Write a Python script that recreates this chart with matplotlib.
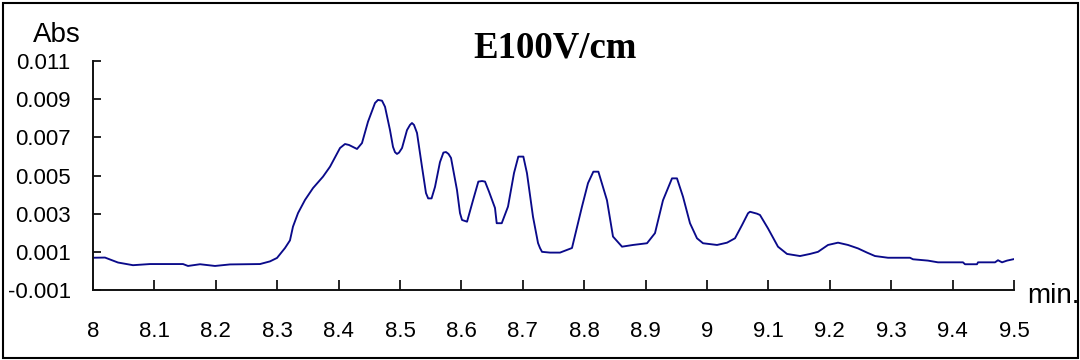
import matplotlib
matplotlib.use("Agg")
import matplotlib.pyplot as plt
from matplotlib.patches import Rectangle

# electropherogram trace (time in min, absorbance)
time_min = [
    8.000, 8.0195, 8.0407, 8.0651, 8.0928, 8.1466, 8.1547, 8.1743, 8.1987, 8.2231,
    8.2720, 8.2883, 8.2997, 8.3127, 8.3208, 8.3257, 8.3339, 8.3453, 8.3583, 8.3746,
    8.3860, 8.4023, 8.4104, 8.4169, 8.4300, 8.4381, 8.4479, 8.4593, 8.4642, 8.4707,
    8.4756, 8.4837, 8.4886, 8.4919, 8.4951, 8.4984, 8.5033, 8.5114, 8.5163, 8.5195,
    8.5228, 8.5277, 8.5358, 8.5423, 8.5459, 8.5514, 8.5570, 8.5651, 8.5707, 8.5749,
    8.5790, 8.5831, 8.5928, 8.5977, 8.6010, 8.6092, 8.6189, 8.6276, 8.6336, 8.6385,
    8.6450, 8.6547, 8.6575, 8.6657, 8.6759, 8.6857, 8.6927, 8.7009, 8.7068, 8.7166,
    8.7248, 8.7280, 8.7313, 8.7443, 8.7606, 8.7801, 8.7964, 8.8062, 8.8149, 8.8231,
    8.8371, 8.8469, 8.8616, 8.8795, 8.9023, 8.9153, 8.9283, 8.9430, 8.9511, 8.9609,
    8.9723, 8.9837, 8.9935, 9.0163, 9.0326, 9.0456, 9.0570, 9.0668, 9.0700, 9.0814,
    9.0863, 9.0993, 9.1156, 9.1303, 9.1515, 9.1678, 9.1808, 9.1971, 9.2134, 9.2296,
    9.2459, 9.2606, 9.2736, 9.2948, 9.3306, 9.3355, 9.3599, 9.3762, 9.4169, 9.4202,
    9.4397, 9.4414, 9.4691, 9.4739, 9.4805, 9.4886, 9.5000,
]
absorbance = [
    0.00069, 0.00070, 0.00044, 0.00030, 0.00036, 0.00036, 0.00026, 0.00035, 0.00026, 0.00034,
    0.00036, 0.00050, 0.00068, 0.00120, 0.00160, 0.00232, 0.00303, 0.00372, 0.00434, 0.00494,
    0.00546, 0.00644, 0.00665, 0.00660, 0.00639, 0.00670, 0.00782, 0.00880, 0.00896, 0.00892,
    0.00860, 0.00738, 0.00650, 0.00622, 0.00613, 0.00620, 0.00644, 0.00738, 0.00765, 0.00775,
    0.00765, 0.00723, 0.00546, 0.00408, 0.00380, 0.00380, 0.00440, 0.00570, 0.00620, 0.00623,
    0.00613, 0.00592, 0.00424, 0.00303, 0.00267, 0.00258, 0.00370, 0.00468, 0.00471, 0.00468,
    0.00415, 0.00330, 0.00250, 0.00250, 0.00337, 0.00513, 0.00599, 0.00599, 0.00512, 0.00284,
    0.00146, 0.00120, 0.00100, 0.00096, 0.00096, 0.00120, 0.00337, 0.00460, 0.00520, 0.00520,
    0.00370, 0.00180, 0.00127, 0.00136, 0.00145, 0.00198, 0.00370, 0.00485, 0.00485, 0.00389,
    0.00250, 0.00171, 0.00145, 0.00136, 0.00148, 0.00171, 0.00240, 0.00302, 0.00310, 0.00300,
    0.00293, 0.00223, 0.00127, 0.00089, 0.00078, 0.00089, 0.00100, 0.00136, 0.00148, 0.00136,
    0.00118, 0.00096, 0.00078, 0.00069, 0.00069, 0.00061, 0.00054, 0.00045, 0.00045, 0.00035,
    0.00035, 0.00045, 0.00045, 0.00056, 0.00045, 0.00054, 0.00062,
]

x_ticks = [8.0, 8.1, 8.2, 8.3, 8.4, 8.5, 8.6, 8.7, 8.8, 8.9, 9.0, 9.1, 9.2, 9.3, 9.4, 9.5]
x_tick_labels = ["8", "8.1", "8.2", "8.3", "8.4", "8.5", "8.6", "8.7", "8.8", "8.9",
                 "9", "9.1", "9.2", "9.3", "9.4", "9.5"]
y_ticks = [-0.001, 0.001, 0.003, 0.005, 0.007, 0.009, 0.011]
y_tick_labels = ["-0.001", "0.001", "0.003", "0.005", "0.007", "0.009", "0.011"]

plt.rcParams["font.family"] = ["Liberation Sans", "DejaVu Sans"]

fig = plt.figure(figsize=(10.8, 3.6), dpi=100)
ax = fig.add_axes([93 / 1080, 1 - 290 / 360, (1014 - 93) / 1080, (290 - 61) / 360])

ax.plot(time_min, absorbance, color="#0a0a8a", linewidth=1.35,
        solid_joinstyle="round")

ax.set_xlim(8.0, 9.5)
ax.set_ylim(-0.001, 0.011)
ax.set_xticks(x_ticks)
ax.set_xticklabels(x_tick_labels)
ax.set_yticks(y_ticks)
ax.set_yticklabels(y_tick_labels)

for side in ("top", "right"):
    ax.spines[side].set_visible(False)
for side in ("left", "bottom"):
    ax.spines[side].set_linewidth(1.4)
    ax.spines[side].set_color("#111111")

ax.tick_params(axis="x", direction="in", length=7, width=1.2, pad=22,
               labelsize=16, colors="black")
ax.tick_params(axis="y", direction="in", length=5.5, width=1.2, pad=16,
               labelsize=16, colors="black")

fig.text(56.7 / 1080, 1 - 42 / 360, "Abs", ha="center", va="baseline", fontsize=20)
fig.text(1027 / 1080, 1 - 303 / 360, "min.", ha="left", va="baseline", fontsize=20)
fig.text(555.5 / 1080, 1 - 57 / 360, "E100V/cm", ha="center", va="baseline",
         fontsize=26.5, fontweight="bold", family=["Liberation Serif", "DejaVu Serif"])

# frame round the whole picture
fig.patches.append(Rectangle((2.5 / 1080, 2 / 360), 1075.5 / 1080, 355 / 360,
                             transform=fig.transFigure, fill=False,
                             edgecolor="black", linewidth=1.5))

fig.savefig("out.png", dpi=100)
plt.close(fig)
